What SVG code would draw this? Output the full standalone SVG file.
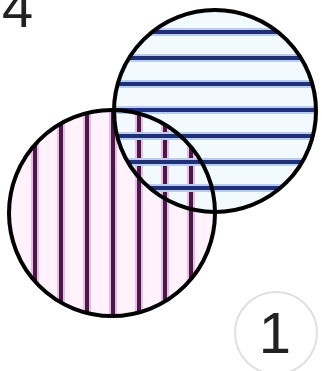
<svg xmlns="http://www.w3.org/2000/svg" width="322" height="371" viewBox="0 0 322 371">
<style>
.outline{fill:none;stroke:#000;stroke-width:4}
.hl{stroke:#1f2f78;stroke-width:4}
.hh{stroke:#b9cdf0;stroke-width:8}
.vl{stroke:#4a1747;stroke-width:4}
.vh{stroke:#e8bfe4;stroke-width:8}
.num{font-family:"Liberation Sans",Arial,sans-serif;fill:#222}
</style>
<defs>
<clipPath id="cb"><circle cx="215" cy="111" r="101"/></clipPath>
<clipPath id="cp"><circle cx="112" cy="213" r="103"/></clipPath>
</defs>
<rect width="322" height="371" fill="#fff"/>
<text class="num" x="2" y="27" font-size="56">4</text>
<g id="purple-set">
<circle cx="112" cy="213" r="103" fill="#fff2fb"/>
</g>
<g id="blue-set">
<circle cx="215" cy="111" r="101" fill="#f2faff"/>
</g>
<g id="purple-lines" clip-path="url(#cp)">
<path class="vh" d="M35 100V330M61 100V330M87 100V330M113 100V330M139 100V330M165 100V330M191 100V330"/>
<path class="vl" d="M35 100V330M61 100V330M87 100V330M113 100V330M139 100V330M165 100V330M191 100V330"/>
</g>
<g id="blue-lines" clip-path="url(#cb)">
<path class="hh" d="M100 32H330M100 58H330M100 84H330M100 110H330M100 136H330M100 162H330M100 188H330"/>
<path class="hl" d="M100 32H330M100 58H330M100 84H330M100 110H330M100 136H330M100 162H330M100 188H330"/>
</g>
<g id="outlines">
<circle class="outline" cx="215" cy="111" r="101"/>
<circle class="outline" cx="112" cy="213" r="103"/>
</g>
<g id="badge">
<circle cx="276" cy="333" r="41" fill="#fff" stroke="#e0e0e0" stroke-width="2"/>
<text class="num" x="275" y="353" font-size="58" text-anchor="middle">1</text>
</g>
</svg>
